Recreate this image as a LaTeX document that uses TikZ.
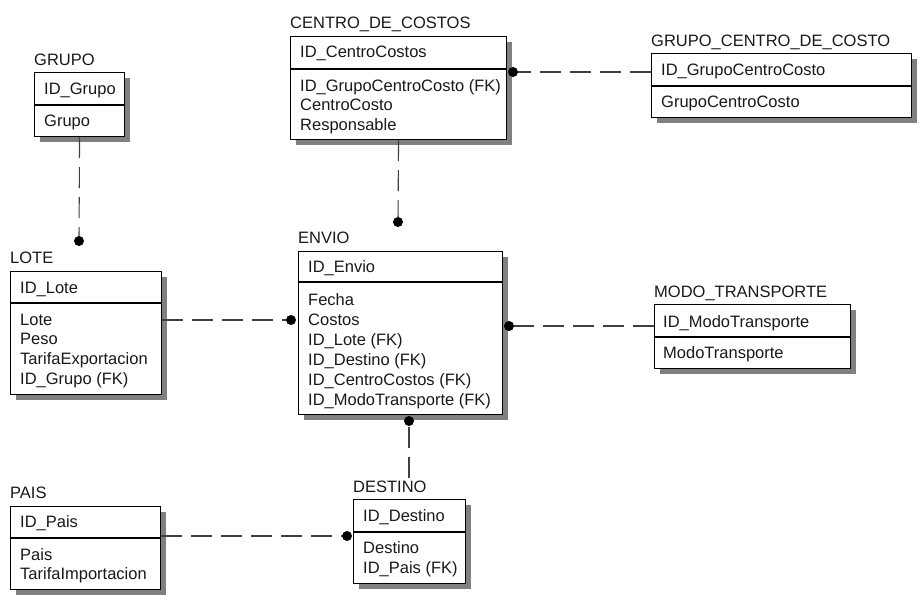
\documentclass[tikz,border=0pt]{standalone}
\usepackage{fontspec}
\setmainfont{Liberation Sans}
\usetikzlibrary{shadows}
\begin{document}
\begin{tikzpicture}[x=1pt,y=-1pt,
  ebox/.style={draw=black, line width=1.1pt, fill=white, rectangle, inner sep=0pt, anchor=north west,
    general shadow={fill=black!50, shadow xshift=5pt, shadow yshift=-5pt}},
  divl/.style={draw=black, line width=1.1pt},
  txt/.style={anchor=west, inner sep=0pt, text height=11.8pt, text depth=0pt,
    font=\fontsize{16.5}{20}\selectfont, text=black!90},
  rel/.style={draw=black!75, line width=1.1pt, dash pattern=on 21pt off 9pt},
  dot/.style={circle, fill=black, inner sep=0pt, minimum size=10pt}
]
\useasboundingbox (0,0) rectangle (921,600);

% ---------- GRUPO ----------
\node[txt] (lgrupo) at (34,60) {GRUPO};
\node[ebox, minimum width=90pt, minimum height=64pt] (grupo) at (34,72) {};
\draw[divl] (grupo.west |- 0,105) -- (grupo.east |- 0,105);
\node[txt] (grupo1) at (44,89) {ID\_Grupo};
\node[txt] (grupo2) at (44,121) {Grupo};

% ---------- CENTRO_DE_COSTOS ----------
\node[txt] (lcentro) at (290,23) {CENTRO\_DE\_COSTOS};
\node[ebox, minimum width=216pt, minimum height=103pt] (centro) at (290,36) {};
\draw[divl] (centro.west |- 0,69) -- (centro.east |- 0,69);
\node[txt] (centro1) at (300,52) {ID\_CentroCostos};
\node[txt] (centro2) at (300,86) {ID\_GrupoCentroCosto (FK)};
\node[txt] (centro3) at (300,105) {CentroCosto};
\node[txt] (centro4) at (300,125) {Responsable};

% ---------- GRUPO_CENTRO_DE_COSTO ----------
\node[txt] (lgcc) at (651,41) {GRUPO\_CENTRO\_DE\_COSTO};
\node[ebox, minimum width=260pt, minimum height=64pt] (gcc) at (651,53) {};
\draw[divl] (gcc.west |- 0,86) -- (gcc.east |- 0,86);
\node[txt] (gcc1) at (661,70) {ID\_GrupoCentroCosto};
\node[txt] (gcc2) at (661,102) {GrupoCentroCosto};

% ---------- LOTE ----------
\node[txt] (llote) at (10,258) {LOTE};
\node[ebox, minimum width=151pt, minimum height=123pt] (lote) at (10,271) {};
\draw[divl] (lote.west |- 0,303) -- (lote.east |- 0,303);
\node[txt] (lote1) at (20,288) {ID\_Lote};
\node[txt] (lote2) at (20,320) {Lote};
\node[txt] (lote3) at (20,339) {Peso};
\node[txt] (lote4) at (20,359) {TarifaExportacion};
\node[txt] (lote5) at (20,379) {ID\_Grupo (FK)};

% ---------- ENVIO ----------
\node[txt] (lenvio) at (298,238) {ENVIO};
\node[ebox, minimum width=204pt, minimum height=163pt] (envio) at (298,251) {};
\draw[divl] (envio.west |- 0,282) -- (envio.east |- 0,282);
\node[txt] (envio1) at (308,267) {ID\_Envio};
\node[txt] (envio2) at (308,300) {Fecha};
\node[txt] (envio3) at (308,320) {Costos};
\node[txt] (envio4) at (308,340) {ID\_Lote (FK)};
\node[txt] (envio5) at (308,360) {ID\_Destino (FK)};
\node[txt] (envio6) at (308,380) {ID\_CentroCostos (FK)};
\node[txt] (envio7) at (308,400) {ID\_ModoTransporte (FK)};

% ---------- MODO_TRANSPORTE ----------
\node[txt] (lmodo) at (654,292) {MODO\_TRANSPORTE};
\node[ebox, minimum width=196pt, minimum height=64pt] (modo) at (654,304) {};
\draw[divl] (modo.west |- 0,337) -- (modo.east |- 0,337);
\node[txt] (modo1) at (663,322) {ID\_ModoTransporte};
\node[txt] (modo2) at (663,353) {ModoTransporte};

% ---------- DESTINO ----------
\node[txt] (ldestino) at (353,487) {DESTINO};
\node[ebox, minimum width=112pt, minimum height=84pt] (destino) at (353,499) {};
\draw[divl] (destino.west |- 0,532) -- (destino.east |- 0,532);
\node[txt] (destino1) at (363,516) {ID\_Destino};
\node[txt] (destino2) at (363,548) {Destino};
\node[txt] (destino3) at (363,568) {ID\_Pais (FK)};

% ---------- PAIS ----------
\node[txt] (lpais) at (10,493) {PAIS};
\node[ebox, minimum width=150pt, minimum height=83pt] (pais) at (10,506) {};
\draw[divl] (pais.west |- 0,538) -- (pais.east |- 0,538);
\node[txt] (pais1) at (20,522) {ID\_Pais};
\node[txt] (pais2) at (20,555) {Pais};
\node[txt] (pais3) at (20,574) {TarifaImportacion};

% ---------- relationship dots ----------
\node[dot] (d1) at (79,241) {};
\node[dot] (d2) at (398,222) {};
\node[dot] (d3) at (513,72) {};
\node[dot] (d4) at (291,320) {};
\node[dot] (d5) at (509,326) {};
\node[dot] (d6) at (409,421) {};
\node[dot] (d7) at (347,536) {};
\coordinate (e6) at (409,478);

% ---------- connectors ----------
\draw[rel] (grupo.south) -- (d1);
\draw[rel] (centro.south) -- (d2);
\draw[rel] (gcc.west |- d3) -- (d3);
\draw[rel] (lote.east |- d4) -- (d4);
\draw[rel] (modo.west |- d5) -- (d5);
\draw[rel] (e6) -- (d6);
\draw[rel] (pais.east |- d7) -- (d7);
\end{tikzpicture}
\end{document}
